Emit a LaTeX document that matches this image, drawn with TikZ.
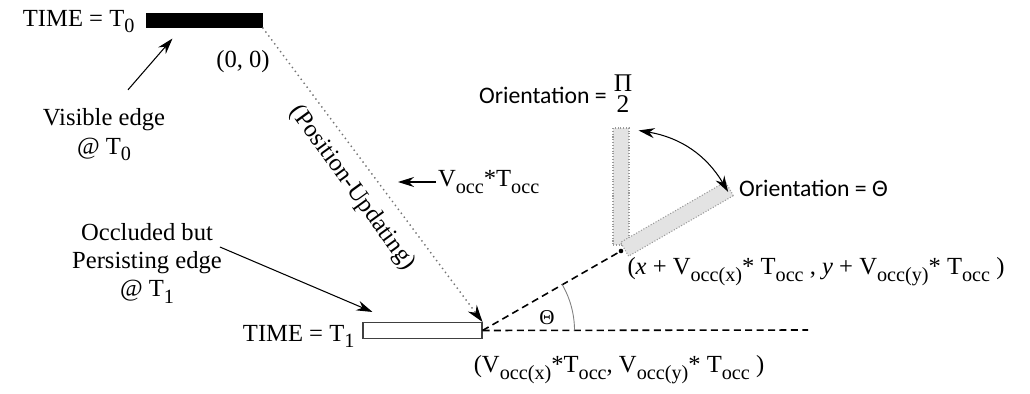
\documentclass[tikz,border=0pt]{standalone}
\usepackage{fontspec}
\setmainfont{Liberation Serif}
\newfontfamily\calib{Carlito}
\usetikzlibrary{arrows.meta,calc}
\newcommand{\lowsub}[1]{\raisebox{-0.6ex}{\fontsize{11.5}{12}\selectfont #1}}
\tikzset{
  >={Stealth[length=3.2mm,width=2mm]},
  lbl/.style={font=\fontsize{14}{16}\selectfont, inner sep=1pt, align=center},
  orilbl/.style={font=\fontsize{13.5}{15}\selectfont, inner sep=1pt, anchor=west},
  edgebar/.style={draw, line width=0.6pt, inner sep=0pt},
  ghostbar/.style={draw=gray!80, densely dotted, fill=gray!22, line width=0.6pt,
    inner sep=0pt, minimum width=0.32cm},
  pointer/.style={->, line width=0.6pt},
  track/.style={-{Stealth[length=3.4mm,width=2.2mm,black]}, gray!90!black, dotted, line width=0.8pt},
  guide/.style={dashed, line width=0.9pt, dash pattern=on 4pt off 2.5pt},
}
\begin{document}
\begin{tikzpicture}[x=0.02cm, y=-0.02cm]
\useasboundingbox (0,0) rectangle (1030,394);

% ---------- edge at T0 ----------
\node[edgebar, fill=black, minimum width=2.3cm, minimum height=0.26cm] (bar0) at (204.5,20.5) {};
\node[lbl, anchor=east] (t0) at ($(bar0.west)+(-10,1)$) {TIME = T\lowsub{0}};
\node[lbl] (orig) at (243,62) {(0, 0)};
\node[lbl] (vis) at (104,135) {Visible edge\\@ T\lowsub{0}};

% ---------- edge at T1 ----------
\node[edgebar, draw=black!75, fill=white, minimum width=2.38cm, minimum height=0.32cm] (bar1) at (422.5,330.5) {};
\node[lbl, anchor=east] (t1) at ($(bar1.west)+(-6,6)$) {TIME = T\lowsub{1}};
\node[lbl] (occ) at (147,263) {Occluded but\\Persisting edge\\@ T\lowsub{1}};
\node[lbl] (bot) at (619,370) {(V\lowsub{occ(x)}*T\lowsub{occ}, V\lowsub{occ(y)}* T\lowsub{occ} )};

% ---------- update ----------
\node[lbl, rotate=-54] (upd) at (352,188) {(Position-Updating)};
\node[lbl, anchor=west] (vt) at (436,182) {V\lowsub{occ}*T\lowsub{occ}};
\coordinate (vtip) at (398,182);

% ---------- orientation ----------
\coordinate (pivot) at (621,251);
\coordinate (horizon) at (808,330);
\node[ghostbar, minimum height=2.34cm] (vbar) at (621,186.5) {};
\node[ghostbar, minimum height=2.42cm, rotate=-60] (sbar) at (677,219) {};
\node[orilbl] (ori1) at (477,97) {{\calib Orientation =}\hspace{4pt}{\fontsize{14.5}{15}\selectfont\begin{tabular}{@{}c@{}}Π\\[-3pt]2\end{tabular}}};
\node[orilbl] (ori2) at (737,188) {\calib Orientation = Θ};
\node[lbl] (pos) at (816,272) {(\textit{x} + V\lowsub{occ(x)}* T\lowsub{occ} , \textit{y} + V\lowsub{occ(y)}* T\lowsub{occ} )};
\node[lbl, font=\fontsize{12}{14}\selectfont] (th) at (547,318) {Θ};

% ---------- connectors ----------
\draw[pointer] ($(vis.north)+(24,-17)$) -- ($(bar0.south west)+(26,11)$);
\draw[pointer] ($(occ.east)+(-4,-16)$) -- ($(bar1.north west)+(10,-10)$);
\draw[track] (bar0.south east) -- (bar1.north east);
\draw[pointer] (vt.west) -- (vtip);
\draw[guide] (bar1.east) -- (horizon);
\draw[guide] (bar1.east) -- (pivot);
\fill (pivot) circle[radius=1.3pt];
\draw[gray, line width=0.5pt] ($(bar1.east)+(1.84cm,0)$) arc[start angle=0, end angle=30, radius=1.84cm];
\draw[<->, line width=0.6pt] ($(vbar.north east)+(9,3)$) to[bend left=25] ($(sbar.north east)+(-6,-4)$);
\end{tikzpicture}
\end{document}
